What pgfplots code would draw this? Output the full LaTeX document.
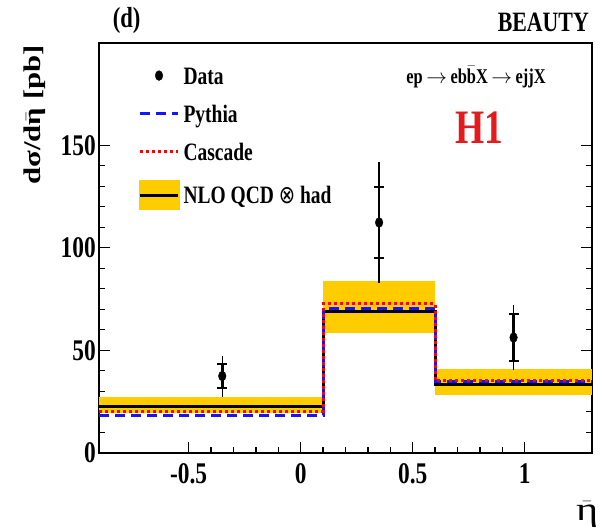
\documentclass[border=0pt]{standalone}
\usepackage{fontspec}
\setmainfont{Liberation Serif}[FakeStretch=0.78]
\newfontfamily\rotfont{Liberation Serif}[FakeStretch=1.28]
\newfontfamily\symfont{DejaVu Sans}[FakeStretch=0.78]
\usepackage{pgfplots}
\usepackage{pgfplotstable}
\pgfplotsset{compat=1.18}

\definecolor{bandyellow}{RGB}{255,204,0}
\definecolor{hred}{RGB}{228,26,28}
\definecolor{pblue}{RGB}{20,20,255}
\definecolor{cred}{RGB}{255,0,0}

\newcommand{\fs}[1]{\fontsize{#1}{#1}\selectfont\bfseries}

% measured cross sections: eta, value, stat. error, total error
\pgfplotstableread{
x     y      stat  tot
-0.35 37.4   5.9   10.0
0.35  112.3  17.2  29.4
0.95  56.2   11.4  16.0
}\datatab

% predictions per bin (bins: [-0.9,0.1], [0.1,0.6], [0.6,1.3])
\pgfplotstableread{
x     y
-0.9  18.3
0.1   70.2
0.6   34.5
1.3   34.5
}\pythiatab
\pgfplotstableread{
x     y
-0.9  20.3
0.1   72.6
0.6   35.3
1.3   35.3
}\cascadetab
\pgfplotstableread{
x     y
-0.9  22.7
0.1   68.9
0.6   33.2
1.3   33.2
}\nlotab

\pgfplotsset{
  pythia/.style={draw=pblue, line width=3pt, dash pattern=on 10pt off 6pt},
  cascade/.style={draw=cred, line width=3pt, dash pattern=on 3pt off 3pt},
  nlo/.style={draw=black, line width=3pt},
  band/.style={fill=bandyellow, draw=none, forget plot},
  datamark/.style={mark=*, mark size=3.8pt, mark options={black, fill=black, yscale=1.3}},
  capmark/.style={forget plot, only marks, mark=-, mark size=5pt, mark options={draw=black, solid, line width=2.2pt}},
  leg mark/.style={legend image code/.code={%
    \draw[mark repeat=2,mark phase=2,##1] plot coordinates {(0pt,0pt) (19pt,0pt) (38pt,0pt)};}},
  leg line/.style={legend image code/.code={%
    \draw[##1] (0pt,0pt) -- (38pt,0pt);}},
  leg band/.style={legend image code/.code={%
    \fill[bandyellow] (0pt,-13.5pt) rectangle (38pt,13.5pt);
    \draw[##1] (0pt,0pt) -- (38pt,0pt);}},
}

\begin{document}
\begin{tikzpicture}
\useasboundingbox (0pt,0pt) rectangle (602pt,528pt);
\begin{axis}[
  at={(99pt,75.3pt)}, anchor=south west,
  width=493pt, height=410pt, scale only axis,
  xmin=-0.9, xmax=1.3, ymin=0, ymax=200,
  xtick={-0.5,0,0.5,1}, xticklabels={-0.5,0,0.5,1},
  ytick={0,50,100,150},
  minor x tick num=4, minor y tick num=4,
  xtick pos=left, ytick pos=both, yticklabel pos=left,
  tick align=inside,
  major tick length=11pt, minor tick length=6pt,
  every tick/.style={black, line width=1.3pt},
  axis line style={line width=1.6pt},
  /pgf/number format/assume math mode=true,
  tick label style={font=\fs{30}, inner sep=1pt},
  xticklabel style={yshift=-10pt},
  yticklabel style={xshift=-2pt},
  xlabel={$\bar{\hbox{η}}$},
  xlabel style={font=\fontsize{33}{33}\selectfont\rotfont, at={(axis description cs:1.013,-0.182)}, anchor=south east, inner sep=0pt},
  ylabel={\rotfont dσ/d$\bar{\hbox{η}}$ [pb]},
  ylabel style={font=\fs{24}, at={(axis description cs:-0.13,0.994)}, anchor=east, inner sep=0pt},
  legend style={at={(axis cs:-0.7236,188.6)}, anchor=north west, draw=none, fill=none,
    inner sep=0pt, outer sep=0pt, row sep=19pt, font=\fs{25},
    nodes={inner sep=0pt, text height=18pt, text depth=1pt},
    /tikz/every odd column/.append style={column sep=4pt}},
  legend cell align=left,
]
% legend entries
\addlegendimage{only marks, datamark, leg mark}
\addlegendentry{Data}
\addlegendimage{pythia, leg line}
\addlegendentry{Pythia}
\addlegendimage{cascade, leg line}
\addlegendentry{Cascade}
\addlegendimage{nlo, leg band}
\addlegendentry{NLO QCD {\symfont\mdseries ⊗} had}

% NLO uncertainty band
\addplot[band] coordinates {(-0.9,19.4) (0.1,19.4) (0.1,27.2) (-0.9,27.2)} --cycle;
\addplot[band] coordinates {(0.1,58.3) (0.6,58.3) (0.6,83.8) (0.1,83.8)} --cycle;
\addplot[band] coordinates {(0.6,28.0) (1.3,28.0) (1.3,41.0) (0.6,41.0)} --cycle;

% predictions
\addplot[nlo, const plot, forget plot] table[x=x, y=y] {\nlotab};
\addplot[pythia, const plot, forget plot] table[x=x, y=y] {\pythiatab};
\addplot[cascade, const plot, forget plot] table[x=x, y=y] {\cascadetab};

% data: total error bars
\addplot[forget plot, draw=none, mark=none,
  error bars/.cd, y dir=both, y explicit, error mark=none,
  error bar style={draw=black, solid, line width=1.5pt}]
  table[x=x, y=y, y error=tot] {\datatab};
% statistical error bars (thicker)
\addplot[forget plot, draw=none, mark=none,
  error bars/.cd, y dir=both, y explicit, error mark=none,
  error bar style={draw=black, solid, line width=2.6pt}]
  table[x=x, y=y, y error=stat] {\datatab};
% end caps of the statistical errors
\addplot[capmark] table[x=x, y expr=\thisrow{y}+\thisrow{stat}] {\datatab};
\addplot[capmark] table[x=x, y expr=\thisrow{y}-\thisrow{stat}] {\datatab};
% measured points
\addplot[forget plot, only marks, datamark] table[x=x, y=y] {\datatab};
\end{axis}
\node[font=\fs{29}, inner sep=0pt] at (126.7pt,507pt) {(d)};
\node[font=\fs{28}, anchor=east, inner sep=0pt] at (589pt,505.5pt) {BEAUTY};
\node[font=\fs{21}, inner sep=0pt] at (476pt,451pt) {ep\,$\rightarrow$\,eb$\bar{\hbox{b}}$X\,$\rightarrow$\,ejjX};
\node[font=\fs{48}, text=hred, inner sep=0pt] at (479pt,400pt) {H1};
\end{tikzpicture}
\end{document}
